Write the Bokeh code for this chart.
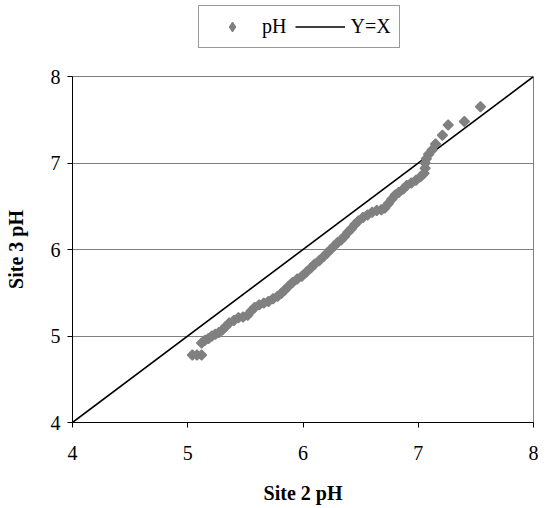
from bokeh.plotting import figure
from bokeh.models import FixedTicker, ColumnDataSource, Legend, LegendItem
from bokeh.layouts import column
from bokeh.embed import file_html
from bokeh.resources import INLINE
import math

# Site 2 pH (x) vs Site 3 pH (y)
site2_ph = [5.04, 5.08, 5.12, 5.12, 5.15, 5.18, 5.21, 5.24, 5.27, 5.30,
            5.33, 5.36, 5.40, 5.44, 5.48, 5.52, 5.55, 5.58, 5.62, 5.66,
            5.70, 5.74, 5.78, 5.81, 5.84, 5.87, 5.91, 5.95, 5.99, 6.03,
            6.07, 6.10, 6.14, 6.18, 6.21, 6.24, 6.27, 6.30, 6.33, 6.36,
            6.39, 6.42, 6.45, 6.48, 6.52, 6.56, 6.60, 6.64, 6.68, 6.71,
            6.74, 6.77, 6.80, 6.83, 6.87, 6.90, 6.94, 6.98, 7.02, 7.05,
            7.06, 7.06, 7.07, 7.09, 7.12, 7.15, 7.21, 7.26, 7.40, 7.54]
site3_ph = [4.78, 4.78, 4.78, 4.92, 4.95, 4.97, 5.00, 5.02, 5.04, 5.07,
            5.11, 5.15, 5.18, 5.21, 5.22, 5.24, 5.29, 5.33, 5.36, 5.38,
            5.40, 5.43, 5.46, 5.49, 5.53, 5.57, 5.62, 5.66, 5.69, 5.74,
            5.79, 5.83, 5.87, 5.92, 5.96, 6.00, 6.04, 6.08, 6.11, 6.15,
            6.20, 6.24, 6.29, 6.33, 6.37, 6.40, 6.43, 6.45, 6.46, 6.48,
            6.53, 6.58, 6.63, 6.66, 6.70, 6.74, 6.77, 6.80, 6.84, 6.88,
            6.94, 7.00, 7.05, 7.10, 7.15, 7.22, 7.32, 7.44, 7.48, 7.65]

line_x = [4, 8]
line_y = [4, 8]
tick_values = [4, 5, 6, 7, 8]
x_title = "Site 2 pH"
y_title = "Site 3 pH"
series_name = "pH"
line_name = "Y=X"

FONT = "Liberation Serif"
GRAY = "#808080"

# ---- main chart ----
p = figure(width=545, height=452, x_range=(4, 8), y_range=(4, 8),
           output_backend="svg", toolbar_location=None,
           min_border_left=72, min_border_right=12,
           min_border_top=20, min_border_bottom=86)

p.background_fill_color = "white"
p.border_fill_color = "white"
p.outline_line_color = GRAY
p.outline_line_width = 1

p.xgrid.grid_line_color = None
p.ygrid.grid_line_color = GRAY
p.ygrid.grid_line_width = 1
p.ygrid.ticker = FixedTicker(ticks=tick_values)

for ax in (p.xaxis[0], p.yaxis[0]):
    ax.ticker = FixedTicker(ticks=tick_values)
    ax.axis_line_color = "black"
    ax.axis_line_width = 1
    ax.major_tick_line_color = "black"
    ax.major_tick_out = 5
    ax.major_tick_in = 0
    ax.minor_tick_line_color = None
    ax.major_label_text_font = FONT
    ax.major_label_text_font_size = "20px"
    ax.major_label_text_color = "black"
    ax.axis_label_text_font = FONT
    ax.axis_label_text_font_size = "20px"
    ax.axis_label_text_font_style = "bold"
    ax.axis_label_text_color = "black"

p.xaxis.axis_label = x_title
p.yaxis.axis_label = y_title
p.xaxis.major_label_standoff = 18
p.xaxis.axis_label_standoff = 19
p.yaxis.major_label_standoff = 7
p.yaxis.axis_label_standoff = 21

src = ColumnDataSource(dict(x=site2_ph, y=site3_ph))
p.line(line_x, line_y, line_color="black", line_width=1.6)
p.scatter("x", "y", source=src, marker="square", angle=math.pi / 4, size=7,
          fill_color=GRAY, line_color=GRAY, line_width=1.5)

# ---- legend strip above the chart ----
# the same data is used, but it lies outside this strip's ranges, so only the legend shows
lf = figure(width=545, height=56, x_range=(0, 1), y_range=(0, 1),
            output_backend="svg", toolbar_location=None,
            x_axis_type=None, y_axis_type=None,
            min_border=0, min_border_left=0, min_border_right=0,
            min_border_top=0, min_border_bottom=0)
lf.outline_line_color = None
lf.xgrid.grid_line_color = None
lf.ygrid.grid_line_color = None
lf.background_fill_color = "white"
lf.border_fill_color = "white"

l_pts = lf.scatter("x", "y", source=src, marker="diamond", size=10,
                   fill_color=GRAY, line_color=GRAY, line_width=1)
l_line = lf.line(line_x, line_y, line_color="black", line_width=1.6)

leg = Legend(items=[LegendItem(label=series_name, renderers=[l_pts]),
                    LegendItem(label=line_name, renderers=[l_line])])
leg.orientation = "horizontal"
leg.location = (126, 8)
leg.border_line_color = "#333333"
leg.border_line_width = 1
leg.background_fill_color = "white"
leg.background_fill_alpha = 1
leg.label_text_font = FONT
leg.label_text_font_size = "20px"
leg.label_text_color = "black"
leg.label_height = 25
leg.glyph_width = 50
leg.glyph_height = 25
leg.label_standoff = 5
leg.spacing = 9
leg.padding = 8
leg.margin = 0
lf.add_layout(leg, "center")

layout = column(lf, p, spacing=0)
open("out.html", "w").write(file_html(layout, INLINE))
